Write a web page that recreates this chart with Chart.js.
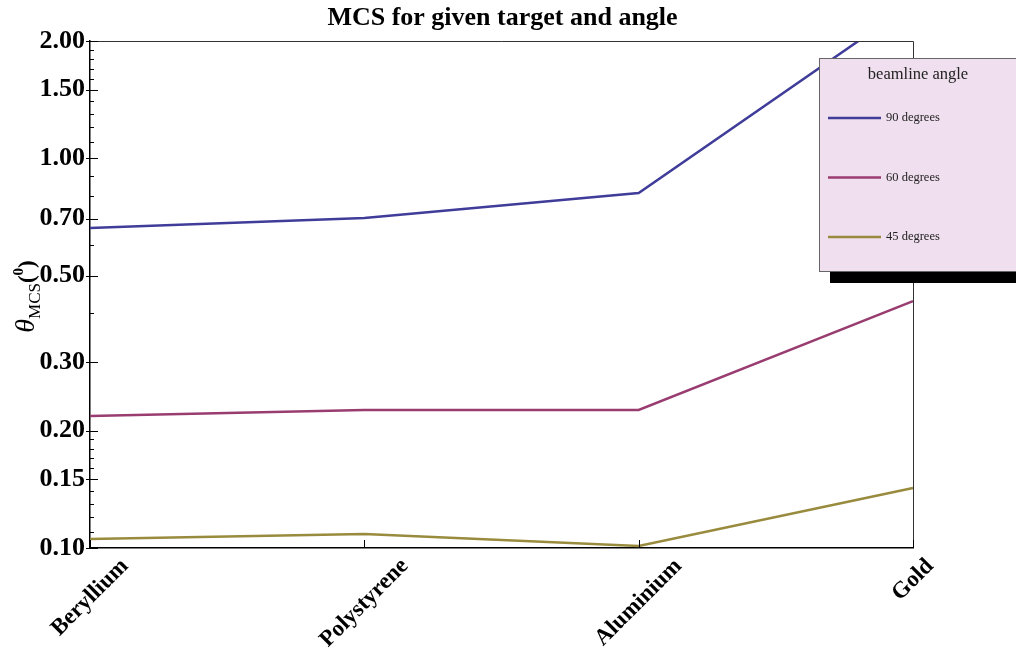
<!DOCTYPE html>
<html>
<head>
<meta charset="utf-8">
<script src="https://cdn.jsdelivr.net/npm/chart.js@4.4.0/dist/chart.umd.min.js"></script>
<style>
    html, body {margin: 0; padding: 0; background: #fff;}
    #wrap {width: 1016px; height: 650px;}
</style>
</head>
<body>
<div id="wrap"><canvas id="chart_mcs"></canvas></div>
<script>
'use strict';
const materials = ['Beryllium', 'Polystyrene', 'Aluminium', 'Gold'];
const deg90 = [0.662, 0.703, 0.815, 2.5];
const deg60 = [0.218, 0.226, 0.226, 0.430];
const deg45 = [0.1055, 0.1086, 0.1012, 0.1426];
const majorTicks = [0.1, 0.15, 0.2, 0.3, 0.5, 0.7, 1.0, 1.5, 2.0];
const minorTicks = [0.11, 0.12, 0.13, 0.14, 0.16, 0.17, 0.18, 0.19, 0.4, 0.6, 0.8, 0.9,
    1.1, 1.2, 1.3, 1.4, 1.6, 1.7, 1.8, 1.9];
const chartTitle = 'MCS for given target and angle';
const legendTitle = 'beamline angle';

const SERIF = '"Liberation Serif", "Times New Roman", serif';
const COLORS = {
    blue: 'rgb(63, 61, 153)',
    magenta: 'rgb(153, 61, 113)',
    olive: 'rgb(153, 139, 61)'
};

function line(label, data, color) {
    return {
        label: label,
        data: data,
        borderColor: color,
        backgroundColor: color,
        borderWidth: 2.5,
        pointRadius: 0,
        tension: 0,
        fill: false
    };
}

// frame, inward ticks, rotated labels, axis title, title and the boxed legend
const decorations = {
    id: 'decorations',
    afterDraw(chart) {
        let ctx = chart.ctx,
            area = chart.chartArea,
            xs = chart.scales.x,
            ys = chart.scales.y;
        ctx.save();

        // top / right frame
        ctx.strokeStyle = '#333';
        ctx.lineWidth = 1;
        ctx.beginPath();
        ctx.moveTo(area.left, area.top + 0.5);
        ctx.lineTo(area.right + 0.5, area.top + 0.5);
        ctx.lineTo(area.right + 0.5, area.bottom);
        ctx.stroke();

        // y ticks: inside, plus a short outer mark at labelled values
        ctx.strokeStyle = '#000';
        ctx.beginPath();
        majorTicks.forEach(v => {
            let y = Math.round(ys.getPixelForValue(v)) + 0.5;
            ctx.moveTo(area.left - 4, y);
            ctx.lineTo(area.left + 8, y);
        });
        minorTicks.forEach(v => {
            let y = Math.round(ys.getPixelForValue(v)) + 0.5;
            ctx.moveTo(area.left, y);
            ctx.lineTo(area.left + 4, y);
        });
        // x ticks pointing up
        chart.data.labels.forEach((lab, i) => {
            let x = Math.round(xs.getPixelForTick(i)) + 0.5;
            ctx.moveTo(x, area.bottom);
            ctx.lineTo(x, area.bottom - 8);
        });
        ctx.stroke();

        // x labels, rotated 45 degrees, centred under the tick
        ctx.fillStyle = '#000';
        ctx.font = `bold 23px ${SERIF}`;
        ctx.textAlign = 'center';
        ctx.textBaseline = 'middle';
        chart.data.labels.forEach((lab, i) => {
            let x = xs.getPixelForTick(i),
                w = ctx.measureText(lab).width,
                cy = area.bottom + 9 + (w + 16) * Math.SQRT1_2 / 2;
            ctx.save();
            ctx.translate(x, cy);
            ctx.rotate(-Math.PI / 4);
            ctx.fillText(lab, 0, 0);
            ctx.restore();
        });

        // y axis title: theta_MCS(^0)
        let parts = [
            {t: '\u03b8', f: `italic 28px ${SERIF}`, dy: 0},
            {t: 'MCS', f: `17px ${SERIF}`, dy: 6},
            {t: '(', f: `bold 23px ${SERIF}`, dy: 0},
            {t: '0', f: `bold 15px ${SERIF}`, dy: -11},
            {t: ')', f: `bold 23px ${SERIF}`, dy: 0}
        ];
        let total = 0;
        parts.forEach(p => {
            ctx.font = p.f;
            p.w = ctx.measureText(p.t).width;
            total += p.w;
        });
        ctx.save();
        ctx.translate(34, (area.top + area.bottom) / 2 + 2);
        ctx.rotate(-Math.PI / 2);
        ctx.textAlign = 'left';
        ctx.textBaseline = 'alphabetic';
        let px = -total / 2;
        parts.forEach(p => {
            ctx.font = p.f;
            ctx.fillText(p.t, px, p.dy);
            px += p.w;
        });
        ctx.restore();

        // title
        ctx.font = `bold 26px ${SERIF}`;
        ctx.textAlign = 'center';
        ctx.textBaseline = 'middle';
        ctx.fillText(chartTitle, (area.left + area.right) / 2 + 1, 18);

        // legend box with shadow
        let bx = 819, by = 58, bw = 210, bh = 213;
        ctx.fillStyle = '#000';
        ctx.fillRect(bx + 11, by + bh, bw, 12);
        ctx.fillStyle = 'rgb(240, 223, 239)';
        ctx.fillRect(bx, by, bw, bh);
        ctx.strokeStyle = '#666';
        ctx.lineWidth = 1;
        ctx.strokeRect(bx + 0.5, by + 0.5, bw, bh);
        ctx.fillStyle = '#222';
        ctx.font = `16.5px ${SERIF}`;
        ctx.fillText(legendTitle, 918, 75);
        ctx.textAlign = 'left';
        ctx.font = `12.5px ${SERIF}`;
        chart.data.datasets.forEach((ds, i) => {
            let y = 118 + i * 59.5;
            ctx.strokeStyle = ds.borderColor;
            ctx.lineWidth = 2.5;
            ctx.beginPath();
            ctx.moveTo(828, y);
            ctx.lineTo(881, y);
            ctx.stroke();
            ctx.fillStyle = '#222';
            ctx.fillText(ds.label, 886, y);
        });
        ctx.restore();
    }
};

let ctx = document.getElementById('chart_mcs').getContext('2d');
window.ChartMCS = new Chart(ctx, {
    type: 'line',
    data: {
        labels: materials,
        datasets: [
            line('90 degrees', deg90, COLORS.blue),
            line('60 degrees', deg60, COLORS.magenta),
            line('45 degrees', deg45, COLORS.olive)
        ]
    },
    options: {
        responsive: true,
        maintainAspectRatio: false,
        animation: false,
        layout: {padding: {top: 41, right: 103, left: 0, bottom: 0}},
        plugins: {
            legend: {display: false},
            title: {display: false},
            tooltip: {enabled: false}
        },
        scales: {
            x: {
                type: 'category',
                offset: false,
                grid: {display: false, drawTicks: false},
                border: {display: true, color: '#000', width: 1.5},
                ticks: {display: false},
                afterFit: scale => { scale.height = 102; }
            },
            y: {
                type: 'logarithmic',
                min: 0.1,
                max: 2.0,
                grid: {display: false, drawTicks: false},
                border: {display: true, color: '#000', width: 1.5},
                afterBuildTicks: scale => {
                    scale.ticks = majorTicks.map(v => ({value: v}));
                },
                afterFit: scale => { scale.width = 90; },
                ticks: {
                    autoSkip: false,
                    padding: 5,
                    color: '#000',
                    font: {family: SERIF, size: 26, weight: 'bold'},
                    callback: v => Number(v).toFixed(2)
                }
            }
        }
    },
    plugins: [decorations]
});
</script>
</body>
</html>
